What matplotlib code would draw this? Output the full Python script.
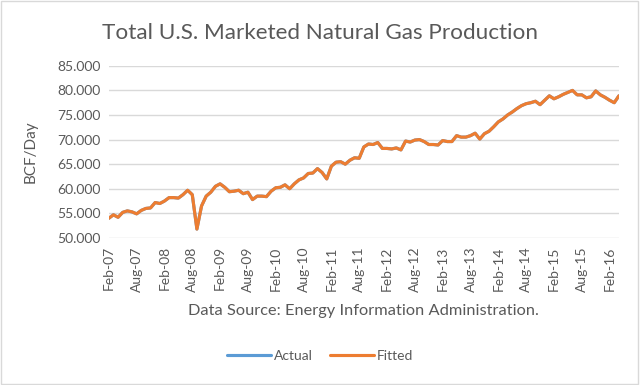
import matplotlib.pyplot as plt
import numpy as np
from matplotlib.patches import Rectangle

# monthly values, Feb-07 .. Apr-16
actual = [54.0, 54.7, 54.2, 55.2, 55.5, 55.3, 54.9, 55.6, 56.0, 56.1,
          57.2, 57.0, 57.5, 58.2, 58.2, 58.1, 58.8, 59.7, 58.8, 51.8,
          56.5, 58.5, 59.3, 60.5, 61.0, 60.3, 59.4, 59.5, 59.7, 59.0,
          59.3, 57.8, 58.5, 58.5, 58.4, 59.5, 60.2, 60.3, 60.8, 60.0,
          61.0, 61.8, 62.2, 63.1, 63.2, 64.1, 63.3, 62.0, 64.6, 65.4,
          65.5, 65.0, 65.8, 66.3, 66.2, 68.5, 69.1, 69.0, 69.4, 68.2,
          68.2, 68.1, 68.3, 67.9, 69.7, 69.5, 69.9, 70.0, 69.6, 69.0,
          69.0, 68.9, 69.8, 69.6, 69.6, 70.8, 70.5, 70.5, 70.8, 71.3,
          70.1, 71.2, 71.7, 72.6, 73.6, 74.2, 75.0, 75.6, 76.3, 76.9,
          77.3, 77.5, 77.8, 77.1, 78.0, 78.9, 78.3, 78.7, 79.2, 79.6,
          80.0, 79.1, 79.1, 78.5, 78.7, 79.9, 79.1, 78.6, 78.0, 77.5,
          78.9]
fitted = list(actual)

tick_labels = ["Feb-07", "Aug-07", "Feb-08", "Aug-08", "Feb-09", "Aug-09",
               "Feb-10", "Aug-10", "Feb-11", "Aug-11", "Feb-12", "Aug-12",
               "Feb-13", "Aug-13", "Feb-14", "Aug-14", "Feb-15", "Aug-15",
               "Feb-16"]
y_ticks = [50, 55, 60, 65, 70, 75, 80, 85]

plt.rcParams['font.family'] = ['Lato', 'DejaVu Sans']
txt = "#595959"
fig = plt.figure(figsize=(6.4, 3.85), dpi=100)
ax = fig.add_axes([0.170, 0.382, 0.797, 0.447])

x = np.arange(len(actual))
ax.plot(x, actual, color="#5B9BD5", lw=2.25, label="Actual", solid_capstyle="round")
ax.plot(x, fitted, color="#ED7D31", lw=2.25, label="Fitted", solid_capstyle="round")

ax.set_xlim(0, len(actual) - 1)
ax.set_ylim(50, 85)
ax.set_yticks(y_ticks)
ax.set_yticklabels(["%.3f" % v for v in y_ticks], color=txt, fontsize=10)
ax.set_xticks(np.arange(0, len(actual), 6)[:len(tick_labels)])
ax.set_xticklabels(tick_labels, rotation=90, color=txt, fontsize=10)
ax.tick_params(length=0, pad=6)
ax.grid(axis="y", color="#d9d9d9", lw=1)
ax.set_axisbelow(True)
for s in ax.spines.values():
    s.set_visible(False)

ax.set_ylabel("BCF/Day", color=txt, fontsize=11, labelpad=14)
ax.set_xlabel("Data Source: Energy Information Administration.", color=txt,
              fontsize=11.8, labelpad=9)
fig.text(0.5, 0.915, "Total U.S. Marketed Natural Gas Production",
         ha="center", va="center", color=txt, fontsize=16.2)

leg = fig.legend(loc="center", bbox_to_anchor=(0.5, 0.075), ncol=2, frameon=False,
                 fontsize=10, handlelength=3.2, columnspacing=1.2, handletextpad=0.2)
for t in leg.get_texts():
    t.set_color(txt)

fig.patches.append(Rectangle((0.002, 0.003), 0.995, 0.994, transform=fig.transFigure,
                             fill=False, edgecolor="#d9d9d9", lw=1))
fig.savefig("out.png", dpi=100)
